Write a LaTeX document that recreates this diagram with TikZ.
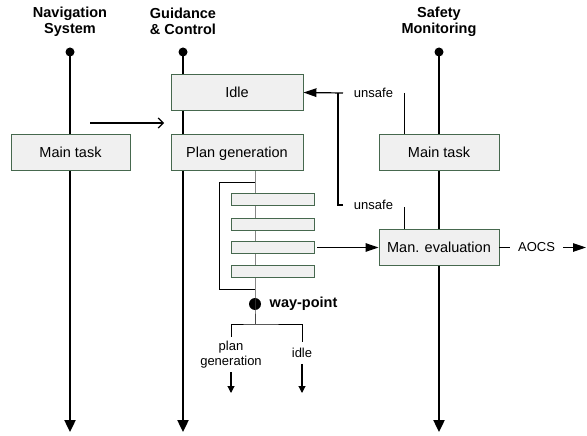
\documentclass[tikz,border=0pt]{standalone}
\usepackage{fontspec}
\setmainfont{Liberation Sans}
\usetikzlibrary{arrows.meta}
\definecolor{boxline}{RGB}{70,104,78}
\definecolor{boxfill}{RGB}{240,240,240}
\definecolor{spinecol}{RGB}{70,70,70}
\begin{document}
\begin{tikzpicture}[x=1pt,y=-1pt,
  task/.style={draw=boxline, fill=boxfill, line width=0.9pt, minimum height=36pt,
    inner sep=0pt, text height=10.5pt, text depth=0pt, font=\fontsize{14.5}{17}\selectfont},
  substep/.style={draw=boxline, fill=boxfill, line width=0.9pt, minimum width=83pt,
    minimum height=12pt, inner sep=0pt},
  lifeline/.style={line width=2.4pt, -{Triangle[length=12pt,width=11pt]}},
  lifedot/.style={circle, fill, inner sep=0pt, minimum size=9pt},
  head/.style={font=\bfseries\fontsize{14.5}{16}\selectfont, align=center},
  small/.style={font=\fontsize{13}{15}\selectfont, align=center},
  conn/.style={line width=1.2pt},
  thinline/.style={line width=0.8pt},
  fillhead/.style={-{Triangle[length=13pt,width=8.5pt]}},
  smallhead/.style={line width=1.1pt, -{Triangle[length=7pt,width=7pt]}}
]
\useasboundingbox (0,0) rectangle (587,436);

% column headers
\node[head] (hnav) at (70,21.5) {Navigation\\System};
\node[head] (hgc)  at (183,21.5) {Guidance\\\& Control};
\node[head] (hsm)  at (439,21.5) {Safety\\Monitoring};

% lifelines
\node[lifedot] (navtop) at (70,52) {};
\node[lifedot] (gctop)  at (183,52) {};
\node[lifedot] (smtop)  at (439,52) {};
\coordinate (navbot) at (70,432);
\coordinate (gcbot)  at (183,432);
\coordinate (smbot)  at (439,432);
\draw[lifeline] (navtop.center) -- (navbot);
\draw[lifeline] (gctop.center) -- (gcbot);
\draw[lifeline] (smtop.center) -- (smbot);

% way-point and spine of the plan loop
\node[circle, fill, inner sep=0pt, minimum size=12pt] (wp) at (255,304) {};
\coordinate (split) at (255,324);
\draw[thinline, spinecol] (255,170) -- (wp.center) -- (split);

% loop bracket
\coordinate (lpa) at (255,182);
\coordinate (lpb) at (219,182);
\coordinate (lpc) at (219,289);
\coordinate (lpd) at (255,289);
\draw[thinline] (lpa) -- (lpb) -- (lpc) -- (lpd);

% task boxes
\node[task, minimum width=119pt] (navmain)  at (70.5,152) {Main task};
\node[task, minimum width=132pt] (idle)     at (237,92.5) {Idle};
\node[task, minimum width=132pt] (plan)     at (237,152) {Plan generation};
\node[task, minimum width=120pt] (safemain) at (439,152) {Main task};
\node[task, minimum width=120pt] (maneval)  at (439,247.5) {Man. evaluation};

% plan steps
\node[substep] (s1) at (272.5,199.5) {};
\node[substep] (s2) at (272.5,224) {};
\node[substep] (s3) at (272.5,247.5) {};
\node[substep] (s4) at (272.5,271.5) {};

% navigation output to guidance
\coordinate (nava) at (90,123);
\coordinate (navb) at (164,123);
\draw[conn, -{Straight Barb[length=5pt,width=10pt]}] (nava) -- (navb);

% unsafe feedback to idle
\node[small] (uns1) at (373.5,92.5) {unsafe};
\node[small] (uns2) at (373.5,205) {unsafe};
\coordinate (u1l) at (343,93);
\coordinate (u1r) at (404,93);
\coordinate (u2l) at (343,205);
\coordinate (u2r) at (404,207);
\coordinate (ucol) at (338,205);
\draw[conn, fillhead] (u1l) -- (idle.east);
\draw[conn] (u2l) -- (ucol) -- (ucol |- u1l);
\draw[thinline] (u1r) -- (u1r |- safemain.north);
\draw[thinline] (u2r) -- (u2r |- maneval.north);

% step to manoeuvre evaluation
\draw[conn, fillhead] ([xshift=3pt]s3.east) -- (maneval.west);

% AOCS output
\node[small, inner sep=0pt] (aocs) at (536.5,247.5) {AOCS};
\coordinate (aocsend) at (586,247.5);
\draw[conn] (maneval.east) -- ([xshift=-8pt]aocs.west);
\draw[conn, fillhead] ([xshift=8pt]aocs.east) -- (aocsend);

% way-point label and branches
\node[font=\bfseries\fontsize{14.5}{16}\selectfont, anchor=west] (wplabel) at ([xshift=5pt]wp.east) {way-point};
\node[small, inner sep=4pt] (pgtxt) at (231,354.5) {plan\\generation};
\node[small, inner sep=6pt] (idtxt) at (302,353) {idle};
\coordinate (pgend) at (231,393);
\coordinate (idend) at (302,393);
\draw[thinline] (pgtxt.north) |- (split) -| (idtxt.north);
\draw[smallhead] (pgtxt.south) -- (pgend);
\draw[smallhead] (idtxt.south) -- (idend);
\end{tikzpicture}
\end{document}
